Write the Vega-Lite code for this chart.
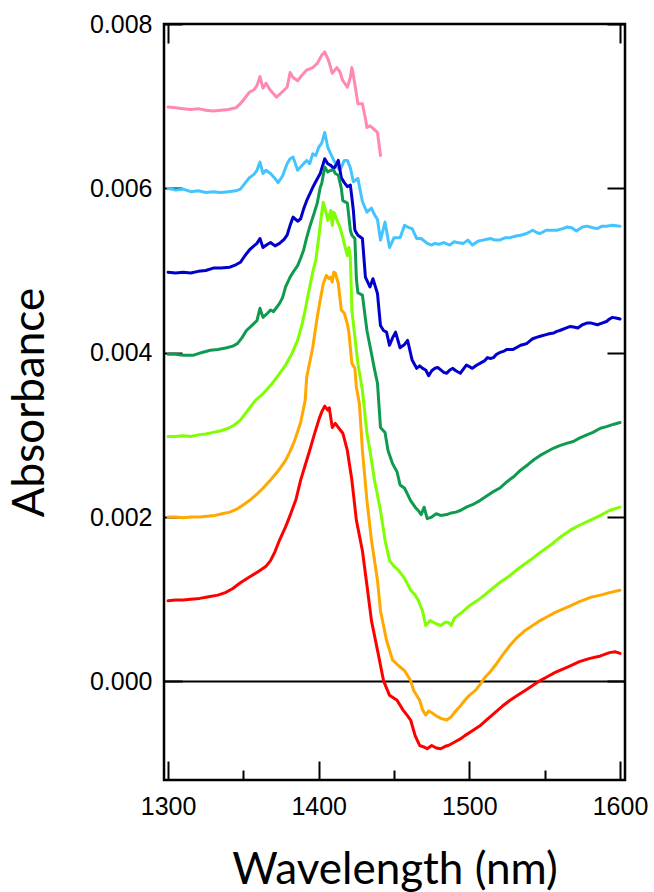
{
"$schema":"https://vega.github.io/schema/vega-lite/v6.json",
"width":461,"height":756,
"autosize":{"type":"none"},
"padding":{"left":164,"top":24,"right":29,"bottom":112},
"background":"white",
"config":{"view":{"stroke":"black","strokeWidth":2.5},
"axis":{"domain":false,"grid":false,"tickColor":"black","tickWidth":2,"labelFont":"Liberation Sans","labelFontSize":25,"labelColor":"black","titleFont":"Lato","titleFontSize":44,"titleFontWeight":"normal","titleColor":"black"}},
"datasets":{"spectra":[
{"s":"pink","w":1300,"a":0.00699},{"s":"pink","w":1305,"a":0.00698},{"s":"pink","w":1310,"a":0.00697},{"s":"pink","w":1315,"a":0.00696},{"s":"pink","w":1320,"a":0.00697},{"s":"pink","w":1325,"a":0.00695},{"s":"pink","w":1330,"a":0.00694},{"s":"pink","w":1335,"a":0.00695},{"s":"pink","w":1340,"a":0.00696},{"s":"pink","w":1345,"a":0.00698},{"s":"pink","w":1348,"a":0.00703},{"s":"pink","w":1351,"a":0.0071},{"s":"pink","w":1354,"a":0.00717},{"s":"pink","w":1357,"a":0.0072},{"s":"pink","w":1359,"a":0.00725},{"s":"pink","w":1361,"a":0.00736},{"s":"pink","w":1363,"a":0.00722},{"s":"pink","w":1365,"a":0.00728},{"s":"pink","w":1368,"a":0.00719},{"s":"pink","w":1370,"a":0.00715},{"s":"pink","w":1372,"a":0.00711},{"s":"pink","w":1375,"a":0.00716},{"s":"pink","w":1379,"a":0.00723},{"s":"pink","w":1381,"a":0.00741},{"s":"pink","w":1383,"a":0.00735},{"s":"pink","w":1386,"a":0.00731},{"s":"pink","w":1389,"a":0.00738},{"s":"pink","w":1392,"a":0.00744},{"s":"pink","w":1396,"a":0.00747},{"s":"pink","w":1399,"a":0.00752},{"s":"pink","w":1402,"a":0.00762},{"s":"pink","w":1404,"a":0.00766},{"s":"pink","w":1406,"a":0.00758},{"s":"pink","w":1407,"a":0.00753},{"s":"pink","w":1409,"a":0.0074},{"s":"pink","w":1412,"a":0.00747},{"s":"pink","w":1414,"a":0.00742},{"s":"pink","w":1416,"a":0.00731},{"s":"pink","w":1419,"a":0.00723},{"s":"pink","w":1421,"a":0.00735},{"s":"pink","w":1422,"a":0.00747},{"s":"pink","w":1423,"a":0.00738},{"s":"pink","w":1425,"a":0.00715},{"s":"pink","w":1426,"a":0.00703},{"s":"pink","w":1429,"a":0.00703},{"s":"pink","w":1431,"a":0.00685},{"s":"pink","w":1432,"a":0.00674},{"s":"pink","w":1434,"a":0.00676},{"s":"pink","w":1436,"a":0.00673},{"s":"pink","w":1439,"a":0.00668},{"s":"pink","w":1441,"a":0.0064},
{"s":"lightblue","w":1300,"a":0.006},{"s":"lightblue","w":1305,"a":0.00598},{"s":"lightblue","w":1310,"a":0.00599},{"s":"lightblue","w":1315,"a":0.00596},{"s":"lightblue","w":1320,"a":0.00597},{"s":"lightblue","w":1325,"a":0.00595},{"s":"lightblue","w":1330,"a":0.00596},{"s":"lightblue","w":1335,"a":0.00595},{"s":"lightblue","w":1340,"a":0.00596},{"s":"lightblue","w":1345,"a":0.00597},{"s":"lightblue","w":1348,"a":0.00599},{"s":"lightblue","w":1351,"a":0.00606},{"s":"lightblue","w":1354,"a":0.00613},{"s":"lightblue","w":1357,"a":0.00617},{"s":"lightblue","w":1359,"a":0.00622},{"s":"lightblue","w":1361,"a":0.00632},{"s":"lightblue","w":1363,"a":0.00618},{"s":"lightblue","w":1365,"a":0.00622},{"s":"lightblue","w":1368,"a":0.00618},{"s":"lightblue","w":1371,"a":0.00612},{"s":"lightblue","w":1373,"a":0.00607},{"s":"lightblue","w":1376,"a":0.00615},{"s":"lightblue","w":1379,"a":0.0063},{"s":"lightblue","w":1381,"a":0.00636},{"s":"lightblue","w":1383,"a":0.00638},{"s":"lightblue","w":1386,"a":0.00622},{"s":"lightblue","w":1389,"a":0.00628},{"s":"lightblue","w":1392,"a":0.00634},{"s":"lightblue","w":1394,"a":0.0063},{"s":"lightblue","w":1396,"a":0.00642},{"s":"lightblue","w":1398,"a":0.0064},{"s":"lightblue","w":1400,"a":0.0065},{"s":"lightblue","w":1402,"a":0.00655},{"s":"lightblue","w":1404,"a":0.00668},{"s":"lightblue","w":1406,"a":0.0065},{"s":"lightblue","w":1408,"a":0.00642},{"s":"lightblue","w":1410,"a":0.00634},{"s":"lightblue","w":1412,"a":0.00627},{"s":"lightblue","w":1414,"a":0.00622},{"s":"lightblue","w":1417,"a":0.00634},{"s":"lightblue","w":1419,"a":0.00634},{"s":"lightblue","w":1421,"a":0.00625},{"s":"lightblue","w":1423,"a":0.00608},{"s":"lightblue","w":1426,"a":0.00612},{"s":"lightblue","w":1429,"a":0.00584},{"s":"lightblue","w":1432,"a":0.00571},{"s":"lightblue","w":1435,"a":0.00576},{"s":"lightblue","w":1437,"a":0.00568},{"s":"lightblue","w":1439,"a":0.00562},{"s":"lightblue","w":1441,"a":0.00537},{"s":"lightblue","w":1444,"a":0.00559},{"s":"lightblue","w":1447,"a":0.00528},{"s":"lightblue","w":1450,"a":0.0054},{"s":"lightblue","w":1454,"a":0.0054},{"s":"lightblue","w":1457,"a":0.00555},{"s":"lightblue","w":1460,"a":0.00552},{"s":"lightblue","w":1462,"a":0.00551},{"s":"lightblue","w":1465,"a":0.00539},{"s":"lightblue","w":1468,"a":0.00539},{"s":"lightblue","w":1472,"a":0.00533},{"s":"lightblue","w":1475,"a":0.00531},{"s":"lightblue","w":1477,"a":0.00533},{"s":"lightblue","w":1480,"a":0.00532},{"s":"lightblue","w":1483,"a":0.00534},{"s":"lightblue","w":1487,"a":0.00531},{"s":"lightblue","w":1490,"a":0.00535},{"s":"lightblue","w":1492,"a":0.00534},{"s":"lightblue","w":1496,"a":0.00533},{"s":"lightblue","w":1499,"a":0.00537},{"s":"lightblue","w":1502,"a":0.00531},{"s":"lightblue","w":1506,"a":0.00536},{"s":"lightblue","w":1509,"a":0.00537},{"s":"lightblue","w":1514,"a":0.00539},{"s":"lightblue","w":1517,"a":0.00537},{"s":"lightblue","w":1520,"a":0.00537},{"s":"lightblue","w":1524,"a":0.0054},{"s":"lightblue","w":1527,"a":0.0054},{"s":"lightblue","w":1531,"a":0.00542},{"s":"lightblue","w":1534,"a":0.00543},{"s":"lightblue","w":1538,"a":0.00545},{"s":"lightblue","w":1542,"a":0.00549},{"s":"lightblue","w":1545,"a":0.00546},{"s":"lightblue","w":1547,"a":0.00545},{"s":"lightblue","w":1551,"a":0.00549},{"s":"lightblue","w":1555,"a":0.00549},{"s":"lightblue","w":1558,"a":0.00549},{"s":"lightblue","w":1562,"a":0.00551},{"s":"lightblue","w":1565,"a":0.00553},{"s":"lightblue","w":1568,"a":0.00552},{"s":"lightblue","w":1571,"a":0.00548},{"s":"lightblue","w":1575,"a":0.00553},{"s":"lightblue","w":1578,"a":0.00554},{"s":"lightblue","w":1582,"a":0.00552},{"s":"lightblue","w":1585,"a":0.00551},{"s":"lightblue","w":1588,"a":0.00554},{"s":"lightblue","w":1591,"a":0.00554},{"s":"lightblue","w":1595,"a":0.00555},{"s":"lightblue","w":1600,"a":0.00554},
{"s":"blue","w":1300,"a":0.00498},{"s":"blue","w":1305,"a":0.00497},{"s":"blue","w":1310,"a":0.00498},{"s":"blue","w":1315,"a":0.00497},{"s":"blue","w":1320,"a":0.00499},{"s":"blue","w":1325,"a":0.005},{"s":"blue","w":1330,"a":0.00503},{"s":"blue","w":1335,"a":0.00503},{"s":"blue","w":1341,"a":0.00504},{"s":"blue","w":1345,"a":0.00507},{"s":"blue","w":1348,"a":0.0051},{"s":"blue","w":1351,"a":0.00518},{"s":"blue","w":1354,"a":0.00525},{"s":"blue","w":1357,"a":0.0053},{"s":"blue","w":1359,"a":0.00533},{"s":"blue","w":1361,"a":0.00539},{"s":"blue","w":1363,"a":0.00528},{"s":"blue","w":1366,"a":0.00532},{"s":"blue","w":1368,"a":0.00534},{"s":"blue","w":1371,"a":0.0053},{"s":"blue","w":1374,"a":0.00533},{"s":"blue","w":1377,"a":0.00538},{"s":"blue","w":1379,"a":0.00543},{"s":"blue","w":1381,"a":0.00555},{"s":"blue","w":1383,"a":0.00565},{"s":"blue","w":1386,"a":0.0056},{"s":"blue","w":1388,"a":0.00563},{"s":"blue","w":1390,"a":0.00575},{"s":"blue","w":1392,"a":0.00585},{"s":"blue","w":1394,"a":0.00593},{"s":"blue","w":1396,"a":0.00601},{"s":"blue","w":1398,"a":0.00608},{"s":"blue","w":1401,"a":0.00618},{"s":"blue","w":1403,"a":0.0063},{"s":"blue","w":1404,"a":0.00636},{"s":"blue","w":1406,"a":0.0063},{"s":"blue","w":1408,"a":0.00628},{"s":"blue","w":1410,"a":0.00624},{"s":"blue","w":1412,"a":0.0063},{"s":"blue","w":1413,"a":0.00634},{"s":"blue","w":1415,"a":0.00613},{"s":"blue","w":1417,"a":0.00607},{"s":"blue","w":1419,"a":0.00602},{"s":"blue","w":1421,"a":0.00604},{"s":"blue","w":1422,"a":0.00589},{"s":"blue","w":1423,"a":0.00573},{"s":"blue","w":1424,"a":0.00549},{"s":"blue","w":1426,"a":0.00543},{"s":"blue","w":1429,"a":0.00539},{"s":"blue","w":1431,"a":0.00492},{"s":"blue","w":1434,"a":0.0048},{"s":"blue","w":1436,"a":0.0049},{"s":"blue","w":1439,"a":0.00472},{"s":"blue","w":1441,"a":0.00433},{"s":"blue","w":1443,"a":0.00427},{"s":"blue","w":1445,"a":0.00425},{"s":"blue","w":1447,"a":0.00409},{"s":"blue","w":1449,"a":0.00418},{"s":"blue","w":1451,"a":0.00425},{"s":"blue","w":1454,"a":0.00406},{"s":"blue","w":1457,"a":0.0041},{"s":"blue","w":1459,"a":0.00415},{"s":"blue","w":1462,"a":0.00391},{"s":"blue","w":1465,"a":0.00381},{"s":"blue","w":1467,"a":0.00384},{"s":"blue","w":1469,"a":0.00381},{"s":"blue","w":1471,"a":0.00379},{"s":"blue","w":1473,"a":0.00372},{"s":"blue","w":1475,"a":0.00378},{"s":"blue","w":1477,"a":0.00381},{"s":"blue","w":1479,"a":0.00382},{"s":"blue","w":1481,"a":0.00379},{"s":"blue","w":1483,"a":0.00376},{"s":"blue","w":1485,"a":0.00375},{"s":"blue","w":1487,"a":0.00379},{"s":"blue","w":1489,"a":0.00381},{"s":"blue","w":1491,"a":0.00378},{"s":"blue","w":1494,"a":0.00375},{"s":"blue","w":1496,"a":0.0038},{"s":"blue","w":1498,"a":0.00385},{"s":"blue","w":1500,"a":0.00383},{"s":"blue","w":1502,"a":0.00381},{"s":"blue","w":1505,"a":0.00385},{"s":"blue","w":1507,"a":0.00387},{"s":"blue","w":1510,"a":0.0039},{"s":"blue","w":1512,"a":0.00394},{"s":"blue","w":1514,"a":0.00393},{"s":"blue","w":1516,"a":0.00394},{"s":"blue","w":1518,"a":0.00398},{"s":"blue","w":1520,"a":0.004},{"s":"blue","w":1523,"a":0.00402},{"s":"blue","w":1525,"a":0.00404},{"s":"blue","w":1527,"a":0.00404},{"s":"blue","w":1529,"a":0.00404},{"s":"blue","w":1532,"a":0.00407},{"s":"blue","w":1534,"a":0.00409},{"s":"blue","w":1536,"a":0.0041},{"s":"blue","w":1538,"a":0.00411},{"s":"blue","w":1540,"a":0.00414},{"s":"blue","w":1542,"a":0.00417},{"s":"blue","w":1545,"a":0.00419},{"s":"blue","w":1547,"a":0.0042},{"s":"blue","w":1551,"a":0.00422},{"s":"blue","w":1553,"a":0.00423},{"s":"blue","w":1556,"a":0.00424},{"s":"blue","w":1558,"a":0.00426},{"s":"blue","w":1560,"a":0.00427},{"s":"blue","w":1564,"a":0.0043},{"s":"blue","w":1567,"a":0.00432},{"s":"blue","w":1570,"a":0.00431},{"s":"blue","w":1572,"a":0.0043},{"s":"blue","w":1575,"a":0.00434},{"s":"blue","w":1578,"a":0.00436},{"s":"blue","w":1581,"a":0.00436},{"s":"blue","w":1585,"a":0.00434},{"s":"blue","w":1588,"a":0.00436},{"s":"blue","w":1591,"a":0.00438},{"s":"blue","w":1593,"a":0.00441},{"s":"blue","w":1595,"a":0.00443},{"s":"blue","w":1598,"a":0.00442},{"s":"blue","w":1600,"a":0.00441},
{"s":"green","w":1300,"a":0.00398},{"s":"green","w":1305,"a":0.00398},{"s":"green","w":1310,"a":0.00397},{"s":"green","w":1317,"a":0.00397},{"s":"green","w":1322,"a":0.004},{"s":"green","w":1328,"a":0.00403},{"s":"green","w":1333,"a":0.00404},{"s":"green","w":1339,"a":0.00406},{"s":"green","w":1343,"a":0.00408},{"s":"green","w":1346,"a":0.00411},{"s":"green","w":1349,"a":0.00418},{"s":"green","w":1352,"a":0.00427},{"s":"green","w":1355,"a":0.00432},{"s":"green","w":1359,"a":0.00439},{"s":"green","w":1361,"a":0.00454},{"s":"green","w":1363,"a":0.00443},{"s":"green","w":1366,"a":0.00448},{"s":"green","w":1368,"a":0.00452},{"s":"green","w":1370,"a":0.0045},{"s":"green","w":1372,"a":0.00455},{"s":"green","w":1374,"a":0.0046},{"s":"green","w":1376,"a":0.00467},{"s":"green","w":1378,"a":0.0048},{"s":"green","w":1381,"a":0.00492},{"s":"green","w":1383,"a":0.00498},{"s":"green","w":1386,"a":0.00506},{"s":"green","w":1388,"a":0.00515},{"s":"green","w":1390,"a":0.00525},{"s":"green","w":1392,"a":0.0054},{"s":"green","w":1394,"a":0.00553},{"s":"green","w":1397,"a":0.0057},{"s":"green","w":1399,"a":0.00582},{"s":"green","w":1401,"a":0.00601},{"s":"green","w":1402,"a":0.00606},{"s":"green","w":1404,"a":0.00626},{"s":"green","w":1406,"a":0.0062},{"s":"green","w":1408,"a":0.00622},{"s":"green","w":1410,"a":0.00622},{"s":"green","w":1411,"a":0.00618},{"s":"green","w":1413,"a":0.00616},{"s":"green","w":1415,"a":0.006},{"s":"green","w":1416,"a":0.00585},{"s":"green","w":1419,"a":0.00582},{"s":"green","w":1421,"a":0.00549},{"s":"green","w":1422,"a":0.00543},{"s":"green","w":1424,"a":0.00539},{"s":"green","w":1425,"a":0.0049},{"s":"green","w":1426,"a":0.00473},{"s":"green","w":1429,"a":0.0047},{"s":"green","w":1432,"a":0.00427},{"s":"green","w":1435,"a":0.00399},{"s":"green","w":1437,"a":0.0038},{"s":"green","w":1439,"a":0.00363},{"s":"green","w":1441,"a":0.00309},{"s":"green","w":1444,"a":0.00303},{"s":"green","w":1446,"a":0.00281},{"s":"green","w":1449,"a":0.00265},{"s":"green","w":1452,"a":0.00255},{"s":"green","w":1454,"a":0.00239},{"s":"green","w":1457,"a":0.00235},{"s":"green","w":1461,"a":0.0022},{"s":"green","w":1464,"a":0.00212},{"s":"green","w":1466,"a":0.00208},{"s":"green","w":1468,"a":0.00203},{"s":"green","w":1470,"a":0.00212},{"s":"green","w":1472,"a":0.00198},{"s":"green","w":1475,"a":0.002},{"s":"green","w":1478,"a":0.00204},{"s":"green","w":1481,"a":0.00202},{"s":"green","w":1485,"a":0.00203},{"s":"green","w":1488,"a":0.00205},{"s":"green","w":1491,"a":0.00206},{"s":"green","w":1494,"a":0.00208},{"s":"green","w":1498,"a":0.00212},{"s":"green","w":1502,"a":0.00215},{"s":"green","w":1507,"a":0.0022},{"s":"green","w":1511,"a":0.00225},{"s":"green","w":1515,"a":0.0023},{"s":"green","w":1520,"a":0.00235},{"s":"green","w":1525,"a":0.00243},{"s":"green","w":1530,"a":0.0025},{"s":"green","w":1534,"a":0.00257},{"s":"green","w":1539,"a":0.00264},{"s":"green","w":1543,"a":0.0027},{"s":"green","w":1547,"a":0.00275},{"s":"green","w":1552,"a":0.0028},{"s":"green","w":1556,"a":0.00284},{"s":"green","w":1560,"a":0.00287},{"s":"green","w":1565,"a":0.0029},{"s":"green","w":1569,"a":0.00292},{"s":"green","w":1573,"a":0.00296},{"s":"green","w":1578,"a":0.003},{"s":"green","w":1582,"a":0.00303},{"s":"green","w":1587,"a":0.00308},{"s":"green","w":1591,"a":0.0031},{"s":"green","w":1596,"a":0.00313},{"s":"green","w":1600,"a":0.00315},
{"s":"lime","w":1300,"a":0.00298},{"s":"lime","w":1305,"a":0.00298},{"s":"lime","w":1310,"a":0.00299},{"s":"lime","w":1315,"a":0.00298},{"s":"lime","w":1320,"a":0.003},{"s":"lime","w":1325,"a":0.00301},{"s":"lime","w":1330,"a":0.00303},{"s":"lime","w":1335,"a":0.00305},{"s":"lime","w":1340,"a":0.00308},{"s":"lime","w":1344,"a":0.00312},{"s":"lime","w":1348,"a":0.00318},{"s":"lime","w":1353,"a":0.0033},{"s":"lime","w":1358,"a":0.00342},{"s":"lime","w":1363,"a":0.0035},{"s":"lime","w":1368,"a":0.0036},{"s":"lime","w":1373,"a":0.00372},{"s":"lime","w":1378,"a":0.00385},{"s":"lime","w":1382,"a":0.00398},{"s":"lime","w":1386,"a":0.00415},{"s":"lime","w":1389,"a":0.00435},{"s":"lime","w":1391,"a":0.00452},{"s":"lime","w":1394,"a":0.0048},{"s":"lime","w":1396,"a":0.00498},{"s":"lime","w":1398,"a":0.00512},{"s":"lime","w":1400,"a":0.0054},{"s":"lime","w":1402,"a":0.0057},{"s":"lime","w":1403,"a":0.00583},{"s":"lime","w":1405,"a":0.0057},{"s":"lime","w":1406,"a":0.00561},{"s":"lime","w":1408,"a":0.00573},{"s":"lime","w":1409,"a":0.00555},{"s":"lime","w":1410,"a":0.00571},{"s":"lime","w":1411,"a":0.00567},{"s":"lime","w":1413,"a":0.00557},{"s":"lime","w":1414,"a":0.00553},{"s":"lime","w":1416,"a":0.0054},{"s":"lime","w":1418,"a":0.00525},{"s":"lime","w":1419,"a":0.00518},{"s":"lime","w":1420,"a":0.00528},{"s":"lime","w":1421,"a":0.00516},{"s":"lime","w":1422,"a":0.00452},{"s":"lime","w":1424,"a":0.00419},{"s":"lime","w":1426,"a":0.00387},{"s":"lime","w":1429,"a":0.00354},{"s":"lime","w":1432,"a":0.00302},{"s":"lime","w":1434,"a":0.00281},{"s":"lime","w":1437,"a":0.00245},{"s":"lime","w":1441,"a":0.00208},{"s":"lime","w":1444,"a":0.00172},{"s":"lime","w":1447,"a":0.00147},{"s":"lime","w":1450,"a":0.0014},{"s":"lime","w":1453,"a":0.00135},{"s":"lime","w":1457,"a":0.00125},{"s":"lime","w":1461,"a":0.00111},{"s":"lime","w":1464,"a":0.00105},{"s":"lime","w":1466,"a":0.00099},{"s":"lime","w":1469,"a":0.00085},{"s":"lime","w":1471,"a":0.00068},{"s":"lime","w":1474,"a":0.00074},{"s":"lime","w":1477,"a":0.00071},{"s":"lime","w":1481,"a":0.00068},{"s":"lime","w":1484,"a":0.00072},{"s":"lime","w":1486,"a":0.00072},{"s":"lime","w":1488,"a":0.00068},{"s":"lime","w":1490,"a":0.00077},{"s":"lime","w":1495,"a":0.00084},{"s":"lime","w":1500,"a":0.00092},{"s":"lime","w":1505,"a":0.00098},{"s":"lime","w":1510,"a":0.00105},{"s":"lime","w":1514,"a":0.00111},{"s":"lime","w":1520,"a":0.0012},{"s":"lime","w":1527,"a":0.00129},{"s":"lime","w":1533,"a":0.00138},{"s":"lime","w":1540,"a":0.00147},{"s":"lime","w":1547,"a":0.00157},{"s":"lime","w":1554,"a":0.00166},{"s":"lime","w":1560,"a":0.00175},{"s":"lime","w":1567,"a":0.00184},{"s":"lime","w":1573,"a":0.0019},{"s":"lime","w":1580,"a":0.00196},{"s":"lime","w":1587,"a":0.00202},{"s":"lime","w":1593,"a":0.00208},{"s":"lime","w":1600,"a":0.00212},
{"s":"orange","w":1300,"a":0.002},{"s":"orange","w":1305,"a":0.002},{"s":"orange","w":1310,"a":0.00199},{"s":"orange","w":1315,"a":0.002},{"s":"orange","w":1321,"a":0.002},{"s":"orange","w":1326,"a":0.00201},{"s":"orange","w":1331,"a":0.00202},{"s":"orange","w":1336,"a":0.00204},{"s":"orange","w":1341,"a":0.00206},{"s":"orange","w":1346,"a":0.0021},{"s":"orange","w":1350,"a":0.00215},{"s":"orange","w":1354,"a":0.0022},{"s":"orange","w":1359,"a":0.00228},{"s":"orange","w":1363,"a":0.00235},{"s":"orange","w":1368,"a":0.00245},{"s":"orange","w":1373,"a":0.00256},{"s":"orange","w":1378,"a":0.00269},{"s":"orange","w":1381,"a":0.0028},{"s":"orange","w":1384,"a":0.00293},{"s":"orange","w":1388,"a":0.00315},{"s":"orange","w":1391,"a":0.00342},{"s":"orange","w":1392,"a":0.0037},{"s":"orange","w":1394,"a":0.00388},{"s":"orange","w":1396,"a":0.00406},{"s":"orange","w":1399,"a":0.00443},{"s":"orange","w":1401,"a":0.00464},{"s":"orange","w":1403,"a":0.00484},{"s":"orange","w":1405,"a":0.00494},{"s":"orange","w":1407,"a":0.0049},{"s":"orange","w":1408,"a":0.00492},{"s":"orange","w":1409,"a":0.00486},{"s":"orange","w":1410,"a":0.00498},{"s":"orange","w":1411,"a":0.00497},{"s":"orange","w":1413,"a":0.00484},{"s":"orange","w":1415,"a":0.00452},{"s":"orange","w":1417,"a":0.00448},{"s":"orange","w":1419,"a":0.00435},{"s":"orange","w":1420,"a":0.00425},{"s":"orange","w":1422,"a":0.00387},{"s":"orange","w":1424,"a":0.00381},{"s":"orange","w":1425,"a":0.00358},{"s":"orange","w":1427,"a":0.00338},{"s":"orange","w":1429,"a":0.00281},{"s":"orange","w":1432,"a":0.0022},{"s":"orange","w":1435,"a":0.00172},{"s":"orange","w":1439,"a":0.00123},{"s":"orange","w":1441,"a":0.00086},{"s":"orange","w":1445,"a":0.0005},{"s":"orange","w":1449,"a":0.00026},{"s":"orange","w":1453,"a":0.00019},{"s":"orange","w":1457,"a":0.00013},{"s":"orange","w":1461,"a":0.00001},{"s":"orange","w":1463,"a":-0.00011},{"s":"orange","w":1467,"a":-0.00023},{"s":"orange","w":1469,"a":-0.00035},{"s":"orange","w":1471,"a":-0.00041},{"s":"orange","w":1473,"a":-0.00036},{"s":"orange","w":1475,"a":-0.00038},{"s":"orange","w":1478,"a":-0.00042},{"s":"orange","w":1481,"a":-0.00045},{"s":"orange","w":1485,"a":-0.00047},{"s":"orange","w":1488,"a":-0.00043},{"s":"orange","w":1490,"a":-0.00038},{"s":"orange","w":1494,"a":-0.0003},{"s":"orange","w":1497,"a":-0.00023},{"s":"orange","w":1500,"a":-0.00017},{"s":"orange","w":1504,"a":-0.00011},{"s":"orange","w":1507,"a":-0.00004},{"s":"orange","w":1510,"a":0.00004},{"s":"orange","w":1514,"a":0.00012},{"s":"orange","w":1517,"a":0.00019},{"s":"orange","w":1522,"a":0.00032},{"s":"orange","w":1527,"a":0.00044},{"s":"orange","w":1532,"a":0.00054},{"s":"orange","w":1537,"a":0.00062},{"s":"orange","w":1542,"a":0.00068},{"s":"orange","w":1547,"a":0.00074},{"s":"orange","w":1552,"a":0.00079},{"s":"orange","w":1557,"a":0.00084},{"s":"orange","w":1562,"a":0.00088},{"s":"orange","w":1567,"a":0.00092},{"s":"orange","w":1573,"a":0.00097},{"s":"orange","w":1580,"a":0.00102},{"s":"orange","w":1587,"a":0.00105},{"s":"orange","w":1593,"a":0.00108},{"s":"orange","w":1600,"a":0.00111},
{"s":"red","w":1300,"a":0.00098},{"s":"red","w":1305,"a":0.00099},{"s":"red","w":1310,"a":0.00099},{"s":"red","w":1315,"a":0.001},{"s":"red","w":1321,"a":0.00101},{"s":"red","w":1327,"a":0.00103},{"s":"red","w":1333,"a":0.00105},{"s":"red","w":1338,"a":0.00108},{"s":"red","w":1343,"a":0.00113},{"s":"red","w":1348,"a":0.0012},{"s":"red","w":1354,"a":0.00127},{"s":"red","w":1361,"a":0.00135},{"s":"red","w":1365,"a":0.0014},{"s":"red","w":1368,"a":0.00147},{"s":"red","w":1371,"a":0.00158},{"s":"red","w":1374,"a":0.00172},{"s":"red","w":1378,"a":0.00188},{"s":"red","w":1381,"a":0.00202},{"s":"red","w":1385,"a":0.00222},{"s":"red","w":1388,"a":0.00245},{"s":"red","w":1391,"a":0.00263},{"s":"red","w":1394,"a":0.00281},{"s":"red","w":1397,"a":0.003},{"s":"red","w":1400,"a":0.00318},{"s":"red","w":1402,"a":0.00328},{"s":"red","w":1404,"a":0.00335},{"s":"red","w":1406,"a":0.0033},{"s":"red","w":1407,"a":0.00333},{"s":"red","w":1409,"a":0.00309},{"s":"red","w":1411,"a":0.00314},{"s":"red","w":1413,"a":0.00309},{"s":"red","w":1416,"a":0.00302},{"s":"red","w":1419,"a":0.00281},{"s":"red","w":1422,"a":0.00245},{"s":"red","w":1425,"a":0.00196},{"s":"red","w":1429,"a":0.00159},{"s":"red","w":1432,"a":0.00117},{"s":"red","w":1435,"a":0.00074},{"s":"red","w":1439,"a":0.00038},{"s":"red","w":1443,"a":0.00001},{"s":"red","w":1447,"a":-0.00017},{"s":"red","w":1452,"a":-0.00023},{"s":"red","w":1456,"a":-0.00035},{"s":"red","w":1459,"a":-0.00042},{"s":"red","w":1461,"a":-0.00047},{"s":"red","w":1464,"a":-0.00066},{"s":"red","w":1467,"a":-0.00078},{"s":"red","w":1470,"a":-0.0008},{"s":"red","w":1472,"a":-0.00082},{"s":"red","w":1475,"a":-0.00078},{"s":"red","w":1478,"a":-0.00081},{"s":"red","w":1481,"a":-0.00082},{"s":"red","w":1484,"a":-0.00079},{"s":"red","w":1486,"a":-0.00078},{"s":"red","w":1490,"a":-0.00074},{"s":"red","w":1494,"a":-0.0007},{"s":"red","w":1497,"a":-0.00066},{"s":"red","w":1502,"a":-0.0006},{"s":"red","w":1507,"a":-0.00054},{"s":"red","w":1512,"a":-0.00046},{"s":"red","w":1517,"a":-0.00038},{"s":"red","w":1522,"a":-0.0003},{"s":"red","w":1527,"a":-0.00023},{"s":"red","w":1532,"a":-0.00017},{"s":"red","w":1537,"a":-0.00011},{"s":"red","w":1542,"a":-0.00005},{"s":"red","w":1547,"a":0.00001},{"s":"red","w":1552,"a":0.00006},{"s":"red","w":1557,"a":0.00011},{"s":"red","w":1562,"a":0.00015},{"s":"red","w":1567,"a":0.00019},{"s":"red","w":1573,"a":0.00024},{"s":"red","w":1580,"a":0.00028},{"s":"red","w":1587,"a":0.00031},{"s":"red","w":1593,"a":0.00035},{"s":"red","w":1597,"a":0.00036},{"s":"red","w":1600,"a":0.00034}
],
"zero":[{"w":1300,"a":0}]},
"layer":[
{"data":{"name":"zero"},"mark":{"type":"rule","color":"black","strokeWidth":2},
 "encoding":{"y":{"field":"a","type":"quantitative","scale":{"domain":[-0.0012,0.008],"nice":false,"zero":false},
  "axis":{"orient":"right","values":[0,0.002,0.004,0.006,0.008],"tickSize":-18,"labels":false,"title":null}}}},
{"data":{"name":"spectra"},"mark":{"type":"line","strokeWidth":3,"strokeCap":"round","strokeJoin":"round"},
 "encoding":{
  "x":{"field":"w","type":"quantitative","scale":{"domain":[1297.3,1603.3],"nice":false,"zero":false},
   "axis":{"orient":"bottom","values":[1300,1400,1500,1600],"format":"d","labelFontSize":25,"tickSize":-19,"labelPadding":33,"title":"Wavelength (nm)","titlePadding":29}},
  "y":{"field":"a","type":"quantitative","scale":{"domain":[-0.0012,0.008],"nice":false,"zero":false},
   "axis":{"orient":"left","values":[0,0.002,0.004,0.006,0.008],"format":".3f","labelFontSize":25,"tickSize":-18,"labelPadding":30,"title":"Absorbance","titlePadding":37}},
  "color":{"field":"s","type":"nominal","legend":null,
   "scale":{"domain":["pink","lightblue","blue","green","lime","orange","red"],"range":["#FF88B4","#44C4FF","#0000CC","#109A50","#80FF00","#FFA800","#FF0000"]}}}},
{"data":{"name":"zero"},"mark":{"type":"point","opacity":0},
 "encoding":{"x":{"field":"w","type":"quantitative","scale":{"domain":[1297.3,1603.3],"nice":false,"zero":false},
   "axis":{"orient":"top","values":[1300,1600],"tickSize":-19,"labels":false,"title":null}}}},
{"data":{"name":"zero"},"mark":{"type":"point","opacity":0},
 "encoding":{"x":{"field":"w","type":"quantitative","scale":{"domain":[1297.3,1603.3],"nice":false,"zero":false},
   "axis":{"orient":"bottom","values":[1350,1450,1550],"tickSize":-10,"labels":false,"title":null}}}}
],
"resolve":{"axis":{"x":"independent","y":"independent"}}
}
